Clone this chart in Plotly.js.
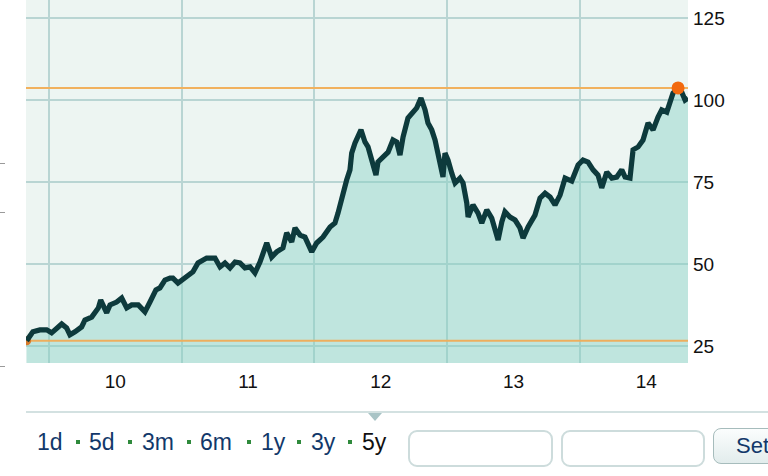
<!DOCTYPE html>
<html>
<head>
<meta charset="utf-8">
<script src="https://cdn.plot.ly/plotly-3.0.1.min.js"></script>
<style>
  html, body { margin: 0; padding: 0; background: #fff; }
  #wrap { position: relative; width: 768px; height: 476px; overflow: hidden; font-family: "Liberation Sans", Arial, sans-serif; }
  #chart { position: absolute; left: 0; top: 0; width: 768px; height: 476px; }
  .rng { position: absolute; top: 427px; font-size: 23px; color: #12386a; line-height: 30px; }
  .rng.sel { color: #111; }
  .dot { position: absolute; top: 440px; width: 4px; height: 4px; background: #2f8a3c; }
  .box { position: absolute; top: 430px; height: 37px; border: 2px solid #cddcdc; border-radius: 9px; background: #fff; box-sizing: border-box; }
  .btn { position: absolute; left: 713px; top: 428px; width: 80px; height: 36px; border: 1.5px solid #a6bcbc; border-radius: 8px; box-sizing: border-box;
         background: linear-gradient(#fbfdfd, #e2ecec); font-size: 22px; color: #12386a; line-height: 33px; padding-left: 22px; }
  .tri { position: absolute; left: 368px; top: 413px; width: 0; height: 0; border-left: 7px solid transparent; border-right: 7px solid transparent; border-top: 8px solid #a9c4c6; }
  .sep { position: absolute; left: 26px; top: 411px; width: 742px; height: 2px; background: #d3e1e1; }
  .lt { position: absolute; left: 0; width: 5px; height: 1px; background: #9a9a9a; }
</style>
</head>
<body>
<div id="wrap">
  <div id="chart"></div>
  <div class="sep"></div>
  <div class="tri"></div>
  <div class="lt" style="top:163px"></div>
  <div class="lt" style="top:212px"></div>
  <div class="lt" style="top:366px"></div>
  <div id="ranges"></div>
  <div class="box" style="left:408px; width:145px;"></div>
  <div class="box" style="left:561px; width:144px;"></div>
  <div class="btn">Set</div>
</div>
<script>
// ---- data (decimal years, price) ----
const years = [2009.832, 2009.879, 2009.932, 2009.983, 2010.020, 2010.058, 2010.096, 2010.133, 2010.158, 2010.196,
  2010.246, 2010.271, 2010.322, 2010.372, 2010.390, 2010.435, 2010.460, 2010.510, 2010.548, 2010.586,
  2010.623, 2010.673, 2010.723, 2010.761, 2010.806, 2010.836, 2010.874, 2010.912, 2010.934, 2010.972,
  2011.025, 2011.085, 2011.123, 2011.188, 2011.251, 2011.289, 2011.326, 2011.364, 2011.402, 2011.439,
  2011.477, 2011.515, 2011.552, 2011.590, 2011.641, 2011.678, 2011.716, 2011.763, 2011.791, 2011.829,
  2011.854, 2011.892, 2011.929, 2011.952, 2011.980, 2012.017, 2012.065, 2012.118, 2012.155, 2012.178,
  2012.206, 2012.243, 2012.268, 2012.281, 2012.306, 2012.329, 2012.351, 2012.381, 2012.404, 2012.432,
  2012.464, 2012.479, 2012.517, 2012.555, 2012.592, 2012.620, 2012.645, 2012.668, 2012.705, 2012.743,
  2012.771, 2012.803, 2012.834, 2012.856, 2012.884, 2012.909, 2012.931, 2012.959, 2012.969, 2012.984,
  2013.007, 2013.035, 2013.060, 2013.097, 2013.120, 2013.148, 2013.158, 2013.195, 2013.233, 2013.261,
  2013.299, 2013.336, 2013.361, 2013.384, 2013.412, 2013.436, 2013.474, 2013.512, 2013.549, 2013.572,
  2013.610, 2013.662, 2013.700, 2013.738, 2013.776, 2013.813, 2013.851, 2013.889, 2013.939, 2013.987,
  2014.024, 2014.062, 2014.100, 2014.137, 2014.165, 2014.203, 2014.241, 2014.278, 2014.316, 2014.341,
  2014.378, 2014.401, 2014.439, 2014.476, 2014.514, 2014.552, 2014.589, 2014.617, 2014.655, 2014.680,
  2014.702, 2014.740, 2014.768, 2014.793, 2014.815];
const prices = [26.6, 29.3, 29.9, 29.9, 29.0, 30.5, 31.7, 30.5, 28.4, 29.3,
  30.8, 32.9, 33.8, 36.6, 39.0, 35.1, 37.5, 38.4, 39.6, 36.6,
  37.5, 37.5, 35.4, 38.4, 42.1, 42.7, 45.1, 45.7, 45.7, 44.2,
  45.7, 47.6, 50.3, 51.8, 51.8, 49.1, 50.3, 48.8, 50.6, 50.3,
  48.8, 49.1, 47.3, 50.6, 56.4, 52.1, 53.7, 54.9, 59.5, 56.7,
  61.0, 58.8, 58.2, 55.8, 53.7, 56.4, 58.2, 61.3, 62.5, 65.5,
  70.4, 75.6, 78.7, 83.8, 86.9, 88.7, 90.9, 87.2, 85.7, 81.7,
  77.1, 81.1, 82.6, 84.1, 87.8, 87.2, 83.2, 88.7, 94.5, 96.0,
  97.6, 100.6, 97.0, 93.0, 90.9, 87.8, 84.1, 78.7, 76.5, 83.8,
  81.7, 77.7, 74.7, 76.2, 74.7, 68.6, 64.3, 68.0, 65.5, 62.5,
  66.5, 64.0, 61.0, 57.3, 62.8, 65.9, 64.3, 63.4, 61.0, 57.9,
  61.3, 64.9, 70.1, 71.6, 70.4, 68.0, 71.0, 76.2, 75.3, 80.2,
  81.7, 81.1, 78.7, 77.1, 73.2, 78.0, 76.2, 76.5, 78.7, 76.5,
  76.2, 84.8, 85.7, 87.8, 93.0, 90.9, 94.8, 97.0, 96.3, 99.1,
  102.1, 103.7, 102.4, 100.0, 100.6];
const yearGrid = [2010, 2011, 2012, 2013, 2014];
const yearLabelPos = [2010.5, 2011.5, 2012.5, 2013.5, 2014.5];
const yearLabels = ['10', '11', '12', '13', '14'];
const priceTicks = [25, 50, 75, 100, 125];
const xRange = [2009.827, 2014.815];
const yRange = [19.8, 130.5];
const rangeButtons = ['1d', '5d', '3m', '6m', '1y', '3y', '5y'];
const selectedRange = '5y';

// ---- derived ----
const maxV = Math.max(...prices), minV = Math.min(...prices);
const iMax = prices.indexOf(maxV), iMin = prices.indexOf(minV);

const traces = [
  { x: years, y: prices, type: 'scatter', mode: 'lines', fill: 'tozeroy',
    fillcolor: 'rgba(132,210,196,0.44)', line: { width: 0, color: 'rgba(0,0,0,0)' }, hoverinfo: 'skip' },
  { x: xRange, y: [maxV, maxV], type: 'scatter', mode: 'lines', line: { color: '#f1b15e', width: 2 }, hoverinfo: 'skip' },
  { x: xRange, y: [minV, minV], type: 'scatter', mode: 'lines', line: { color: '#eeae5e', width: 2 }, hoverinfo: 'skip' },
  { x: [years[iMin]], y: [minV], type: 'scatter', mode: 'markers', marker: { color: '#d77a2a', size: 9 }, hoverinfo: 'skip' },
  { x: years, y: prices, type: 'scatter', mode: 'lines', line: { color: '#0d3a3c', width: 5.2 }, hoverinfo: 'skip' },
  { x: [years[iMax]], y: [maxV], type: 'scatter', mode: 'markers', marker: { color: '#f2690f', size: 13 }, hoverinfo: 'skip' }
];

const layout = {
  width: 768, height: 476,
  margin: { l: 26, r: 80, t: 0, b: 113, pad: 0 },
  paper_bgcolor: 'rgba(0,0,0,0)',
  plot_bgcolor: '#edf5f2',
  showlegend: false,
  font: { family: '"Liberation Sans", Arial, sans-serif', size: 19, color: '#111' },
  xaxis: {
    range: xRange, tickmode: 'array', tickvals: yearLabelPos, ticktext: yearLabels,
    showgrid: false, zeroline: false, showline: false, ticks: '', ticklabelstandoff: 5,
    minor: { tickmode: 'array', tickvals: yearGrid, showgrid: true, gridcolor: '#b9d5d3', gridwidth: 2, ticks: '' },
    tickfont: { size: 19, color: '#111' }, fixedrange: true
  },
  yaxis: {
    range: yRange, side: 'right', tickmode: 'array', tickvals: priceTicks,
    showgrid: true, gridcolor: '#b9d5d3', gridwidth: 2, zeroline: false, showline: false, ticks: '',
    ticklabelstandoff: 4, tickfont: { size: 19, color: '#111' }, fixedrange: true
  }
};

Plotly.newPlot('chart', traces, layout, { staticPlot: true, displayModeBar: false });

// range selector text
const positions = [37, 89, 142, 200, 261, 311, 362];
const dotsX = [76, 128, 187, 247, 297, 348];
const host = document.getElementById('ranges');
rangeButtons.forEach((t, i) => {
  const s = document.createElement('div');
  s.className = 'rng' + (t === selectedRange ? ' sel' : '');
  s.style.left = positions[i] + 'px';
  s.textContent = t;
  host.appendChild(s);
  if (i < dotsX.length) {
    const d = document.createElement('div');
    d.className = 'dot';
    d.style.left = dotsX[i] + 'px';
    host.appendChild(d);
  }
});
</script>
</body>
</html>
